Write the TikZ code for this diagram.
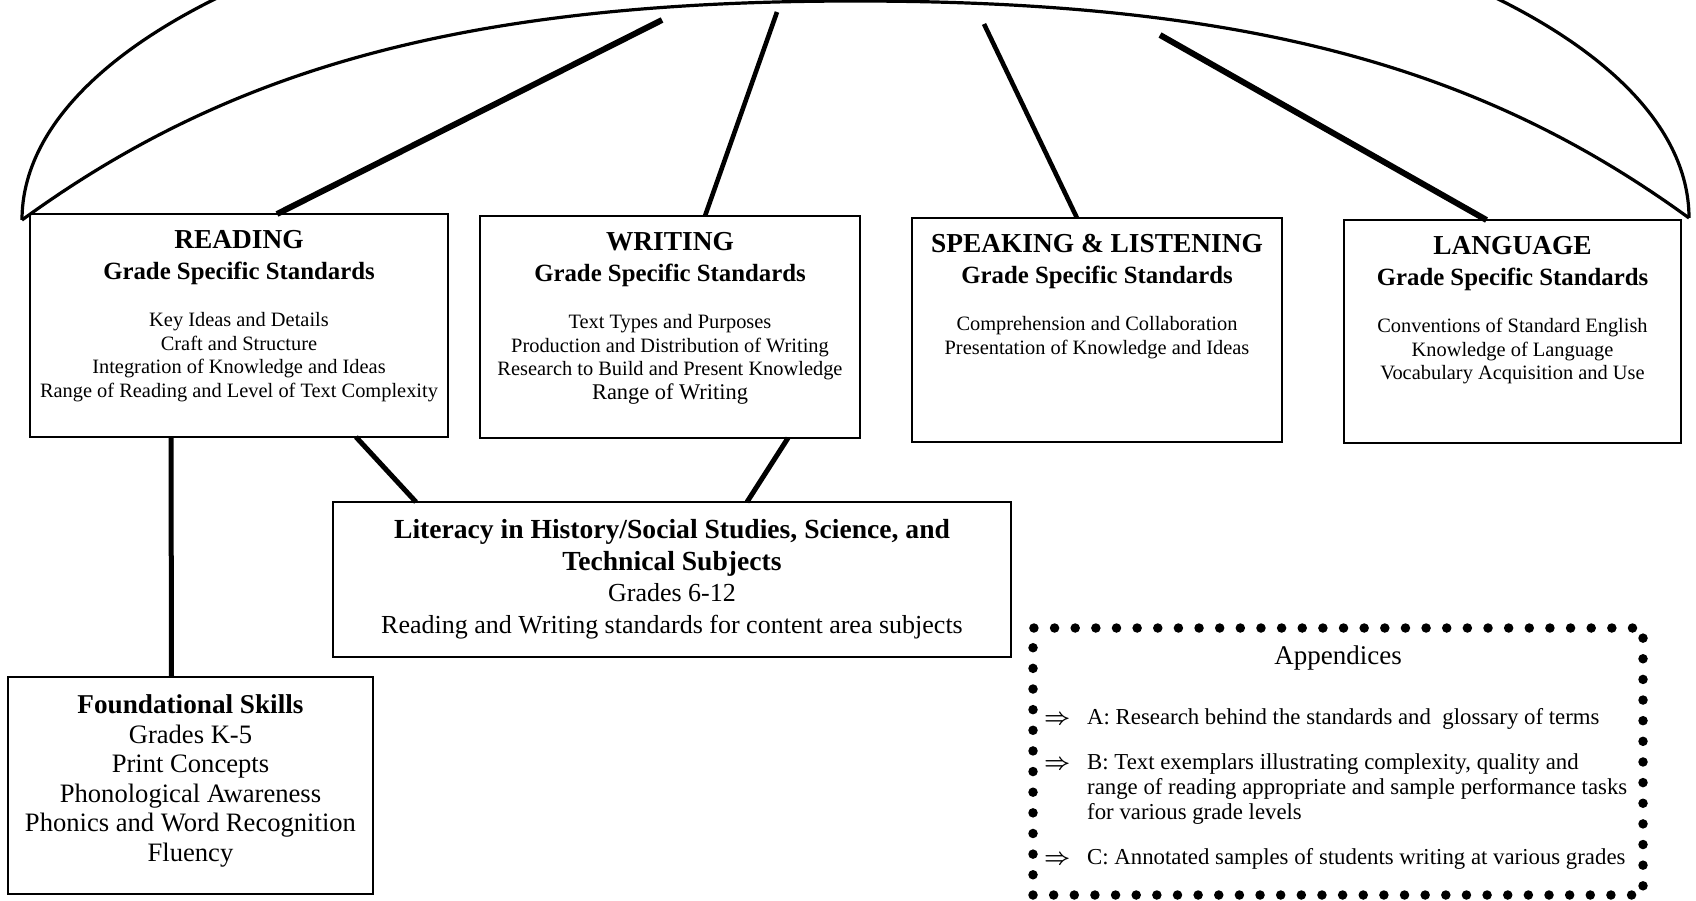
\RequirePackage{fix-cm}
\documentclass[tikz,border=0pt]{standalone}
\usepackage{fontspec}
\setmainfont{Liberation Serif}
\usetikzlibrary{positioning}

\newcommand{\panelhead}{\bfseries\fontsize{27.4}{31.5}\selectfont}
\newcommand{\panelsub}{\bfseries\fontsize{24.8}{31.5}\selectfont}
\newcommand{\panelbody}{\fontsize{20.4}{23.5}\selectfont}
\newcommand{\apparrow}{\makebox[23pt][l]{\boldmath$\Rightarrow$}}

\begin{document}
\begin{tikzpicture}
    [ x = 1pt, y = -1pt
    , panel/.style =
      { draw, line width = 2.6pt, inner sep = 0pt, outer sep = 0pt }
    , paneltext/.style =
      { inner sep = 0pt, align = flush center }
    , arch/.style =
      { line width = 3.2pt }
    , spoke/.style =
      { line width = 4.6pt }
    , heavy/.style =
      { line width = 6pt }
    , link/.style =
      { line width = 5pt }
    , dotbox/.style =
      { draw, line width = 9.5pt, line cap = round,
        dash pattern = on 0pt off 20.64pt, inner sep = 0pt, outer sep = 0pt }
    ]
    \useasboundingbox (0,0) rectangle (1696,900);
    \clip (0,0) rectangle (1696,900);

    % the four strands
    \node [panel, minimum width = 418pt, minimum height = 223pt] (reading) at (239,325.5) {};
    \node [panel, minimum width = 380pt, minimum height = 222pt] (writing) at (670,327) {};
    \node [panel, minimum width = 370pt, minimum height = 224pt] (speaking) at (1097,330) {};
    \node [panel, minimum width = 337pt, minimum height = 223pt] (language) at (1512.5,331.5) {};

    \node [paneltext, text width = 410pt, below = 16pt of reading.north] (readingtext)
      {{\panelhead READING\par}
       {\panelsub Grade Specific Standards\par}
       \vspace{23.5pt}
       {\panelbody Key Ideas and Details\\ Craft and Structure\\
        Integration of Knowledge and Ideas\\
        Range of Reading and Level of Text Complexity\par}};
    \node [paneltext, text width = 372pt, below = 16pt of writing.north] (writingtext)
      {{\panelhead WRITING\par}
       {\panelsub Grade Specific Standards\par}
       \vspace{23.5pt}
       {\panelbody Text Types and Purposes\\
        Production and Distribution of Writing\\
        Research to Build and Present Knowledge\\
        {\fontsize{22.4}{23.5}\selectfont Range of Writing}\par}};
    \node [paneltext, text width = 362pt, below = 16pt of speaking.north] (speakingtext)
      {{\panelhead SPEAKING \& LISTENING\par}
       {\panelsub Grade Specific Standards\par}
       \vspace{23.5pt}
       {\panelbody Comprehension and Collaboration\\
        Presentation of Knowledge and Ideas\par}};
    \node [paneltext, text width = 329pt, below = 16pt of language.north] (languagetext)
      {{\panelhead LANGUAGE\par}
       {\panelsub Grade Specific Standards\par}
       \vspace{23.5pt}
       {\panelbody Conventions of Standard English\\
        Knowledge of Language\\
        Vocabulary Acquisition and Use\par}};

    % lower boxes
    \node [panel, minimum width = 678pt, minimum height = 155pt] (literacy) at (672,579.5) {};
    \node [paneltext, text width = 670pt, below = 17pt of literacy.north,
           font = \fontsize{26}{31.7}\selectfont] (literacytext)
      {{\bfseries\fontsize{27.6}{31.7}\selectfont
        Literacy in History/Social Studies, Science, and\\ Technical Subjects\par}
       Grades 6-12\\ Reading and Writing standards for content area subjects};

    \node [panel, minimum width = 365pt, minimum height = 217pt] (found) at (190.5,785.5) {};
    \node [paneltext, text width = 357pt, below = 17.4pt of found.north,
           font = \fontsize{26.6}{29.6}\selectfont] (foundtext)
      {{\bfseries\fontsize{27.2}{29.6}\selectfont Foundational Skills\par}
       Grades K-5\\ Print Concepts\\ Phonological Awareness\\
       Phonics and Word Recognition\\ Fluency};

    % appendices
    \node [dotbox, minimum width = 610pt, minimum height = 267pt] (appx) at (1338,761.5) {};
    \node [inner sep = 0pt, below = 18pt of appx.north,
           font = \fontsize{27}{30}\selectfont] (apptitle) {Appendices};
    \node [anchor = north west, inner sep = 0pt,
           font = \fontsize{22.8}{25}\selectfont] (applist) at (1044,706.5)
      {\begin{tabular}{@{}l@{\hspace{20pt}}l@{}}
       \apparrow & A: Research behind the standards and\ \ glossary of terms\\[20pt]
       \apparrow & B: Text exemplars illustrating complexity, quality and\\
                 & range of reading appropriate and sample performance tasks\\
                 & for various grade levels\\[20pt]
       \apparrow & C: Annotated samples of students writing at various grades
       \end{tabular}};

    % the arch over the strands
    \coordinate (archleft) at (22,220);
    \coordinate (archright) at (1689,218);
    \draw [arch] (archleft) .. controls (22,29) and (395,-125) .. (855,-125)
                 .. controls (1315,-125) and (1689,27) .. (archright);
    \draw [arch] (archleft) .. controls (224,73) and (455,1) .. (855,1)
                 .. controls (1256,1) and (1487,71) .. (archright);

    \coordinate (readingtip) at (662,20);
    \coordinate (writingtip) at (777,12);
    \coordinate (speakingtip) at (984,24);
    \coordinate (languagetip) at (1160,35);

    \draw [heavy] ([xshift=38pt]reading.north) -- (readingtip);
    \draw [spoke] ([xshift=35pt]writing.north) -- (writingtip);
    \draw [spoke] ([xshift=-20pt]speaking.north) -- (speakingtip);
    \draw [heavy] ([xshift=-26pt]language.north) -- (languagetip);

    \draw [link] ([xshift=-68pt]reading.south) -- ([xshift=-19pt]found.north);
    \draw [link] ([xshift=117pt]reading.south) -- ([xshift=-256pt]literacy.north);
    \draw [link] ([xshift=118pt]writing.south) -- ([xshift=75pt]literacy.north);
\end{tikzpicture}
\end{document}
